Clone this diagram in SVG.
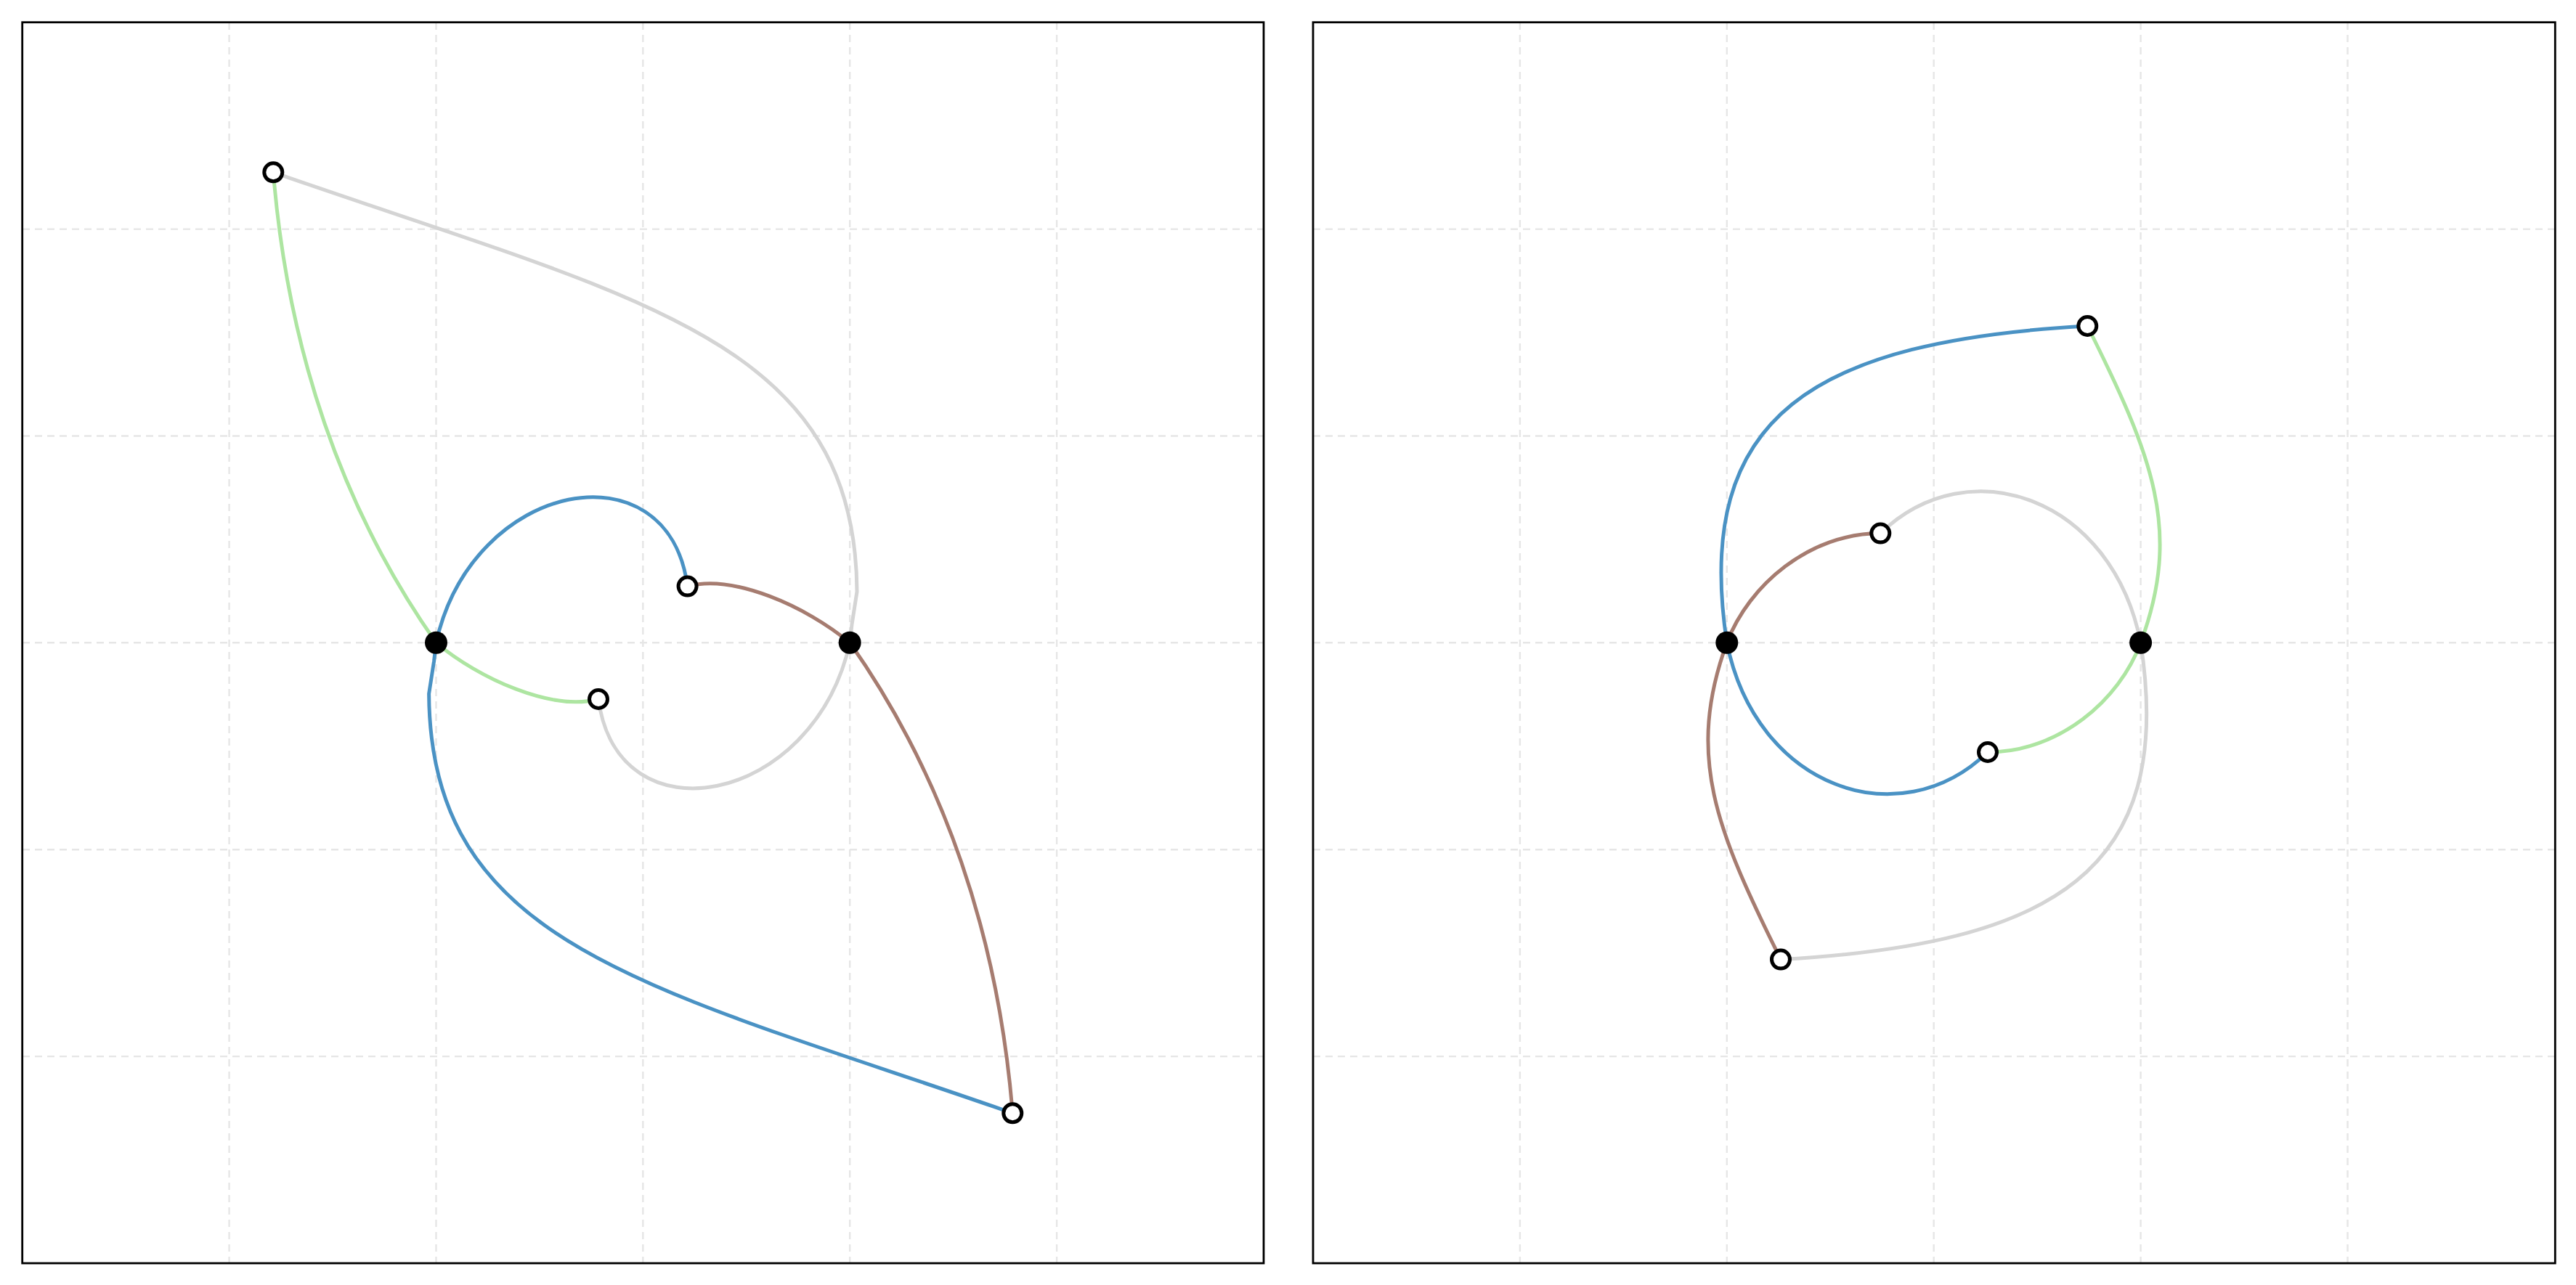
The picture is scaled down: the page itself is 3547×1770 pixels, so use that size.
<svg xmlns="http://www.w3.org/2000/svg" width="3547" height="1770" viewBox="0 0 3547 1770">
<style>
.frame{fill:none;stroke:#000;stroke-width:2.8}
.grid{stroke:#e6e6e6;stroke-width:2.4;stroke-dasharray:10 7;fill:none}
.edge{fill:none;stroke-width:5;stroke-linejoin:round;stroke-linecap:butt}
.blue{stroke:#4a92c4}.green{stroke:#ade5a1}.brown{stroke:#a67c70}.gray{stroke:#d4d4d4}
.solid{fill:#000}
.hollow{fill:#fff;stroke:#000;stroke-width:5}
</style>
<rect width="3547" height="1770" fill="#fff"/>
<g id="grid-left">
<path class="grid" d="M315.6 31V1740M600.5 31V1740M885.3 31V1740M1170.2 31V1740M1455.1 31V1740M31 315.6H1740M31 600.5H1740M31 885.3H1740M31 1170.2H1740M31 1455.1H1740"/>
</g>
<g id="grid-right">
<path class="grid" d="M2092.9 31V1740M2377.8 31V1740M2662.7 31V1740M2947.6 31V1740M3232.5 31V1740M1808 315.6H3518M1808 600.5H3518M1808 885.3H3518M1808 1170.2H3518M1808 1455.1H3518"/>
</g>
<rect id="frame-left" class="frame" x="30.7" y="30.7" width="1709.3" height="1709.3"/>
<rect id="frame-right" class="frame" x="1808" y="30.7" width="1710.3" height="1709.3"/>
<g id="connectors">
<path class="edge gray" d="M376.3 237.3C876 412 1178 465 1180 815L1173 860L1170.2 885.3C1120 1110 850 1160 824 963"/>
<path class="edge blue" d="M1394.3 1533.3C894.6 1358.6 592.6 1305.6 590.6 955.6L597.6 910.6L600.5 885.3C650.6 660.6 920.6 610.6 946.6 807.6"/>
<path class="edge green" d="M376.3 237.3C396 480 470 700 600.5 885.3C660 935 760 980 824 963"/>
<path class="edge brown" d="M1394.3 1533.3C1374.6 1290.6 1300.6 1070.6 1170.2 885.3C1110.6 835.6 1010.6 790.6 946.6 807.6"/>
<path class="edge blue" d="M2874.3 449C2500 470 2330 570 2377.8 885.3C2418 1085 2615 1154 2737 1036"/>
<path class="edge gray" d="M2452 1321.6C2826.3 1300.6 2996.3 1200.6 2947.6 885.3C2908.3 685.6 2711.3 616.6 2589.3 734.6"/>
<path class="edge green" d="M2874.3 449C2964 629 3005 730 2947.6 885.3C2918 965 2835 1036 2737 1036"/>
<path class="edge brown" d="M2452 1321.6C2362.3 1141.6 2321.3 1040.6 2377.8 885.3C2408.3 805.6 2491.3 734.6 2589.3 734.6"/>
</g>
<g id="L-v1"><circle class="solid" cx="600.5" cy="885.3" r="15.5"/></g>
<g id="L-v2"><circle class="solid" cx="1170.2" cy="885.3" r="15.5"/></g>
<g id="L-h1"><circle class="hollow" cx="376.3" cy="237.3" r="12.5"/></g>
<g id="L-h2"><circle class="hollow" cx="946.6" cy="807.6" r="12.5"/></g>
<g id="L-h3"><circle class="hollow" cx="824" cy="963" r="12.5"/></g>
<g id="L-h4"><circle class="hollow" cx="1394.3" cy="1533.3" r="12.5"/></g>
<g id="R-v1"><circle class="solid" cx="2377.8" cy="885.3" r="15.5"/></g>
<g id="R-v2"><circle class="solid" cx="2947.6" cy="885.3" r="15.5"/></g>
<g id="R-h1"><circle class="hollow" cx="2874.3" cy="449" r="12.5"/></g>
<g id="R-h2"><circle class="hollow" cx="2589.3" cy="734.6" r="12.5"/></g>
<g id="R-h3"><circle class="hollow" cx="2452" cy="1321.6" r="12.5"/></g>
<g id="R-h4"><circle class="hollow" cx="2737" cy="1036" r="12.5"/></g>
</svg>
